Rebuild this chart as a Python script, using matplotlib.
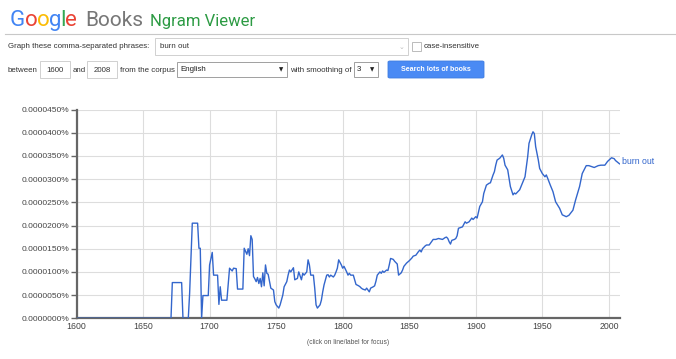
import matplotlib
matplotlib.use("Agg")
import matplotlib.pyplot as plt
from matplotlib.patches import Rectangle, FancyBboxPatch

W, H = 676, 359

years = [1600, 1671, 1672, 1679, 1680, 1684, 1685, 1687, 1691, 1692, 1693, 1694, 1695, 1699,
         1700, 1702, 1703, 1706, 1707, 1708, 1709, 1713, 1715, 1717, 1718, 1720, 1721, 1725,
         1726, 1728, 1729, 1730, 1731, 1732, 1733, 1734, 1735, 1736, 1737, 1738, 1739, 1740,
         1741, 1742, 1743, 1744, 1746, 1748, 1749, 1750, 1752, 1753, 1755, 1756, 1758, 1759,
         1760, 1761, 1763, 1764, 1766, 1767, 1769, 1770, 1771, 1773, 1774, 1775, 1776, 1778,
         1779, 1780, 1781, 1783, 1784, 1785, 1786, 1788, 1789, 1790, 1791, 1793, 1794, 1795,
         1796, 1797, 1799, 1800, 1801, 1803, 1804, 1805, 1806, 1808, 1809, 1810, 1812, 1813,
         1814, 1815, 1817, 1818, 1819, 1820, 1821, 1823, 1824, 1825, 1826, 1828, 1829, 1830,
         1831, 1833, 1834, 1835, 1836, 1838, 1839, 1840, 1841, 1842, 1844, 1845, 1846, 1848,
         1850, 1852, 1853, 1855, 1857, 1858, 1859, 1860, 1862, 1863, 1865, 1867, 1868, 1870,
         1872, 1875, 1877, 1878, 1879, 1880, 1881, 1882, 1884, 1885, 1886, 1887, 1889, 1890,
         1892, 1893, 1895, 1897, 1898, 1900, 1901, 1903, 1905, 1906, 1908, 1910, 1911, 1913,
         1914, 1915, 1916, 1918, 1920, 1921, 1922, 1924, 1925, 1926, 1928, 1929, 1930, 1931,
         1933, 1935, 1937, 1939, 1940, 1942, 1943, 1944, 1945, 1947, 1948, 1950, 1952, 1953,
         1954, 1956, 1958, 1960, 1963, 1965, 1968, 1970, 1973, 1975, 1978, 1980, 1983, 1985,
         1989, 1992, 1994, 1997, 1999, 2002, 2004, 2005, 2008]
# frequency in units of 1e-6 percent
values = [0, 0, 7.7, 7.7, 0, 0, 5.4, 20.5, 20.5, 15.1, 15.1, 0, 4.9, 4.9,
          11.5, 14.2, 9.3, 9.3, 3.0, 6.8, 3.9, 3.9, 10.8, 10.2, 10.8, 10.7, 6.3, 6.3,
          15.1, 13.8, 15.0, 13.5, 17.8, 17.0, 9.0, 8.5, 7.9, 8.8, 7.5, 8.6, 6.8, 9.8,
          7.0, 11.5, 9.7, 9.5, 6.5, 6.1, 3.6, 2.9, 2.2, 2.9, 5.0, 6.8, 7.9, 9.3,
          10.4, 10.0, 10.9, 8.3, 8.6, 10.0, 8.3, 9.7, 9.3, 10.0, 12.6, 11.5, 9.3, 9.3,
          6.5, 2.9, 2.2, 2.9, 3.9, 5.7, 7.2, 9.3, 9.4, 8.9, 9.3, 8.9, 9.3, 10.0,
          10.8, 12.6, 11.5, 10.8, 11.2, 10.0, 9.3, 9.7, 9.3, 9.3, 8.3, 7.3, 7.0, 6.8,
          6.5, 6.3, 6.1, 6.5, 6.1, 5.7, 6.5, 6.8, 7.0, 8.0, 9.3, 10.0, 9.7, 10.2,
          9.9, 10.4, 10.3, 11.5, 12.9, 12.7, 12.3, 12.0, 11.7, 9.3, 9.8, 10.4, 11.2, 11.9,
          12.4, 13.0, 13.4, 13.6, 14.4, 14.7, 14.3, 15.0, 15.6, 15.8, 15.8, 16.6, 17.0, 17.0,
          17.2, 17.0, 17.4, 17.5, 17.2, 16.5, 16.0, 16.8, 17.0, 17.2, 17.8, 19.4, 19.6, 19.7,
          20.8, 20.5, 20.8, 21.6, 21.3, 21.9, 21.6, 24.1, 25.1, 26.9, 28.7, 29.1, 29.2, 30.9,
          31.6, 33.0, 34.1, 34.5, 35.2, 34.5, 33.0, 32.0, 30.2, 28.4, 26.6, 27.0, 26.8, 27.1,
          27.7, 29.1, 30.5, 34.8, 37.7, 39.5, 40.2, 39.8, 37.0, 34.1, 32.3, 31.2, 30.5, 30.9,
          30.2, 28.7, 27.3, 25.1, 23.7, 22.3, 21.9, 22.2, 23.3, 25.5, 28.4, 31.2, 32.9, 32.9,
          32.5, 32.9, 33.0, 33.0, 33.8, 34.6, 34.4, 34.0, 33.3]

series_label = "burn out"
x_ticks = [1600, 1650, 1700, 1750, 1800, 1850, 1900, 1950, 2000]
y_ticks = [0, 5, 10, 15, 20, 25, 30, 35, 40, 45]

FONT = ["Liberation Sans", "DejaVu Sans"]
plt.rcParams["font.family"] = FONT

fig = plt.figure(figsize=(W / 100, H / 100), dpi=100)


def fx(px):
    return px / W


def fy(py):
    return 1 - py / H


# ---------- header ----------
LOGO = ["Roboto", "DejaVu Sans"]
g_colors = ["#4285F4", "#EA4335", "#FBBC05", "#4285F4", "#34A853", "#EA4335"]
renderer = fig.canvas.get_renderer()
xpos = 10
for ch, c in zip("Google", g_colors):
    t = fig.text(fx(xpos), fy(26), ch, color=c, fontsize=16, family=LOGO,
                 va="baseline", ha="left")
    bb = t.get_window_extent(renderer=renderer)
    xpos += bb.width - 0.6
fig.text(fx(85), fy(26), "Books", color="#777777", fontsize=15, family=LOGO,
         va="baseline", ha="left")
fig.text(fx(150), fy(26), "Ngram Viewer", color="#2d9b44", fontsize=12, family=LOGO,
         va="baseline", ha="left")

# separator line
fig.add_artist(plt.Line2D([fx(5), fx(676)], [fy(34), fy(34)], color="#c8c8c8", lw=0.8))

small = 5.7
txtc = "#333333"
fig.text(fx(8), fy(47), "Graph these comma-separated phrases:", fontsize=small, color=txtc, va="center")


def box(x0, y0, x1, y1, ec="#d0d0d0", fc="white", lw=0.7):
    fig.add_artist(Rectangle((fx(x0), fy(y1)), fx(x1) - fx(x0), fy(y0) - fy(y1),
                             transform=fig.transFigure, ec=ec, fc=fc, lw=lw))


box(155, 38, 408, 55)
fig.text(fx(160), fy(47), "burn out", fontsize=small, color=txtc, va="center")
fig.text(fx(401), fy(47), "⌄", fontsize=5, color="#bbbbbb", va="center", ha="center",
         family=["DejaVu Sans"])
box(412, 42, 421, 51, ec="#bbbbbb")
fig.text(fx(424), fy(46.5), "case-insensitive", fontsize=small, color=txtc, va="center")

fig.text(fx(8), fy(70), "between", fontsize=small, color=txtc, va="center")
box(40, 61, 70, 78)
fig.text(fx(55), fy(70), "1600", fontsize=small, color=txtc, va="center", ha="center")
fig.text(fx(73), fy(70), "and", fontsize=small, color=txtc, va="center")
box(87, 61, 117, 78)
fig.text(fx(102), fy(70), "2008", fontsize=small, color=txtc, va="center", ha="center")
fig.text(fx(120), fy(70), "from the corpus", fontsize=small, color=txtc, va="center")
box(177, 62, 287, 77, ec="#a0a0a0")
fig.text(fx(180), fy(69.5), "English", fontsize=small, color="#222222", va="center")
fig.text(fx(281), fy(69.5), "▼", fontsize=4.0, color="#222222", va="center", ha="center",
         family=["DejaVu Sans"])
fig.text(fx(290), fy(70), "with smoothing of", fontsize=small, color=txtc, va="center")
box(354, 62, 378, 77, ec="#a0a0a0")
fig.text(fx(357), fy(69.5), "3", fontsize=small, color="#222222", va="center")
fig.text(fx(372), fy(69.5), "▼", fontsize=4.0, color="#222222", va="center", ha="center",
         family=["DejaVu Sans"])
fig.add_artist(FancyBboxPatch((fx(388), fy(78)), fx(484) - fx(388), fy(61) - fy(78),
                              boxstyle="round,pad=0,rounding_size=0.003",
                              transform=fig.transFigure, ec="#3f7de0", fc="#4a8af4", lw=0.6))
fig.text(fx(436), fy(69.5), "Search lots of books", fontsize=5.1, color="white",
         fontweight="bold", va="center", ha="center")

# ---------- chart ----------
left, right, top, bottom = 76.5, 619.5, 109.5, 318.3
ax = fig.add_axes([fx(left), fy(bottom), fx(right) - fx(left), fy(top) - fy(bottom)])
ax.plot(years, values, color="#3366cc", lw=1.0, solid_joinstyle="round", zorder=3)
ax.set_xlim(1600, 2008)
ax.set_ylim(0, 45)
ax.set_xticks(x_ticks)
ax.set_yticks(y_ticks)
ax.set_xticklabels([str(v) for v in x_ticks])
ax.set_yticklabels([f"{v * 1e-6:.7f}%" for v in y_ticks])
ax.grid(True, color="#dddddd", lw=0.8)
ax.set_axisbelow(True)
for s in ["top", "right"]:
    ax.spines[s].set_visible(False)
for s in ["left", "bottom"]:
    ax.spines[s].set_color("#666666")
    ax.spines[s].set_linewidth(1.6)
ax.tick_params(axis="y", length=4, width=1.0, color="#666666", labelsize=6.0,
               labelcolor="#444444", pad=1)
ax.tick_params(axis="x", length=0, labelsize=6.3, labelcolor="#444444", pad=3)
ax.text(2010, values[-1] + 0.6, series_label, color="#3366cc", fontsize=6.3, va="center",
        ha="left", clip_on=False)

fig.text(fx(348), fy(343), "(click on line/label for focus)", fontsize=4.8, color="#555555",
         ha="center", va="center")

fig.savefig("out.png", dpi=100, facecolor="white")
